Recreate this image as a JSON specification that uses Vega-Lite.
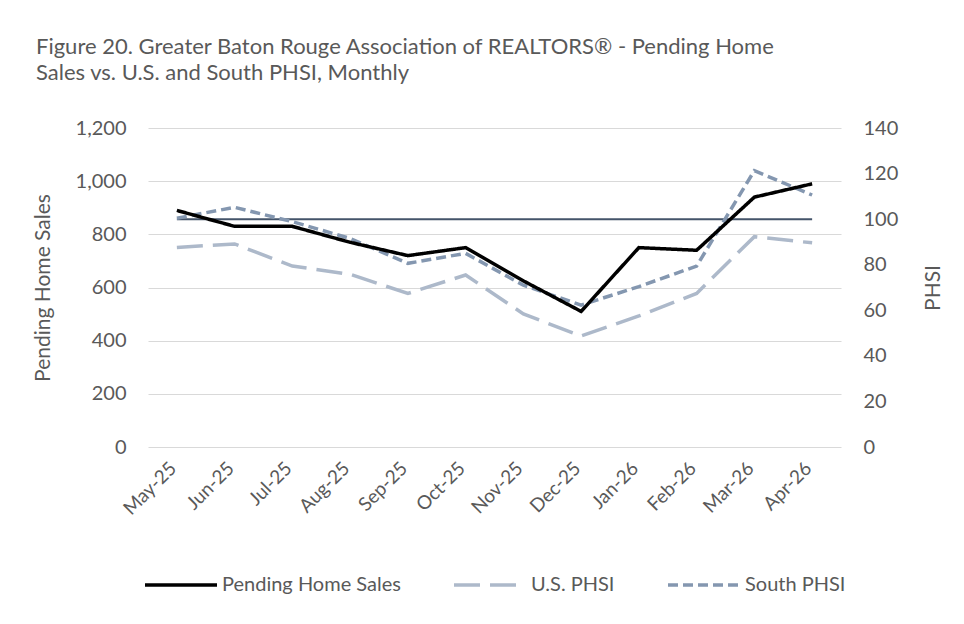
{
  "$schema": "https://vega.github.io/schema/vega-lite/v6.json",
  "width": 693,
  "height": 319,
  "autosize": {"type": "none"},
  "padding": {"left": 148, "top": 128, "right": 123, "bottom": 177},
  "background": "white",
  "config": {
    "font": "Lato",
    "view": {"stroke": null},
    "axis": {"labelColor": "#595959", "titleColor": "#595959", "titleFontWeight": "normal", "labelFontSize": 20, "titleFontSize": 21},
    "legend": {"labelColor": "#595959", "labelFontSize": 20, "labelLimit": 0}
  },
  "title": {
    "text": ["Figure 20. Greater Baton Rouge Association of REALTORS® - Pending Home", "Sales vs. U.S. and South PHSI, Monthly"],
    "anchor": "start",
    "frame": "group",
    "dx": -112,
    "fontSize": 22,
    "fontWeight": "normal",
    "color": "#595959",
    "lineHeight": 26,
    "offset": 33
  },
  "data": {
    "values": [
      {"month": "May-25", "series": "Pending Home Sales", "value": 890},
      {"month": "Jun-25", "series": "Pending Home Sales", "value": 830},
      {"month": "Jul-25", "series": "Pending Home Sales", "value": 830},
      {"month": "Aug-25", "series": "Pending Home Sales", "value": 770},
      {"month": "Sep-25", "series": "Pending Home Sales", "value": 720},
      {"month": "Oct-25", "series": "Pending Home Sales", "value": 750},
      {"month": "Nov-25", "series": "Pending Home Sales", "value": 625},
      {"month": "Dec-25", "series": "Pending Home Sales", "value": 510},
      {"month": "Jan-26", "series": "Pending Home Sales", "value": 750},
      {"month": "Feb-26", "series": "Pending Home Sales", "value": 740},
      {"month": "Mar-26", "series": "Pending Home Sales", "value": 940},
      {"month": "Apr-26", "series": "Pending Home Sales", "value": 990},
      {"month": "May-25", "series": "U.S. PHSI", "value": 87.6},
      {"month": "Jun-25", "series": "U.S. PHSI", "value": 89.1},
      {"month": "Jul-25", "series": "U.S. PHSI", "value": 79.4},
      {"month": "Aug-25", "series": "U.S. PHSI", "value": 75.8},
      {"month": "Sep-25", "series": "U.S. PHSI", "value": 67.4},
      {"month": "Oct-25", "series": "U.S. PHSI", "value": 75.5},
      {"month": "Nov-25", "series": "U.S. PHSI", "value": 58.4},
      {"month": "Dec-25", "series": "U.S. PHSI", "value": 48.7},
      {"month": "Jan-26", "series": "U.S. PHSI", "value": 57.5},
      {"month": "Feb-26", "series": "U.S. PHSI", "value": 67.4},
      {"month": "Mar-26", "series": "U.S. PHSI", "value": 92.3},
      {"month": "Apr-26", "series": "U.S. PHSI", "value": 89.6},
      {"month": "May-25", "series": "South PHSI", "value": 100.4},
      {"month": "Jun-25", "series": "South PHSI", "value": 105.2},
      {"month": "Jul-25", "series": "South PHSI", "value": 98.9},
      {"month": "Aug-25", "series": "South PHSI", "value": 91.5},
      {"month": "Sep-25", "series": "South PHSI", "value": 80.6},
      {"month": "Oct-25", "series": "South PHSI", "value": 85.0},
      {"month": "Nov-25", "series": "South PHSI", "value": 71.0},
      {"month": "Dec-25", "series": "South PHSI", "value": 62.3},
      {"month": "Jan-26", "series": "South PHSI", "value": 70.4},
      {"month": "Feb-26", "series": "South PHSI", "value": 79.4},
      {"month": "Mar-26", "series": "South PHSI", "value": 121.3},
      {"month": "Apr-26", "series": "South PHSI", "value": 110.6},
      {"month": "May-25", "series": "Baseline", "value": 100},
      {"month": "Jun-25", "series": "Baseline", "value": 100},
      {"month": "Jul-25", "series": "Baseline", "value": 100},
      {"month": "Aug-25", "series": "Baseline", "value": 100},
      {"month": "Sep-25", "series": "Baseline", "value": 100},
      {"month": "Oct-25", "series": "Baseline", "value": 100},
      {"month": "Nov-25", "series": "Baseline", "value": 100},
      {"month": "Dec-25", "series": "Baseline", "value": 100},
      {"month": "Jan-26", "series": "Baseline", "value": 100},
      {"month": "Feb-26", "series": "Baseline", "value": 100},
      {"month": "Mar-26", "series": "Baseline", "value": 100},
      {"month": "Apr-26", "series": "Baseline", "value": 100}
    ]
  },
  "encoding": {
    "x": {
      "field": "month",
      "type": "ordinal",
      "sort": ["May-25", "Jun-25", "Jul-25", "Aug-25", "Sep-25", "Oct-25", "Nov-25", "Dec-25", "Jan-26", "Feb-26", "Mar-26", "Apr-26"],
      "scale": {"type": "point", "padding": 0.5},
      "axis": {
        "title": null,
        "labelAngle": -45,
        "labelAlign": "right",
        "labelBaseline": "middle",
        "labelPadding": 18,
        "labelOffset": -4,
        "labelFontSize": 19,
        "domain": false,
        "ticks": false,
        "tickSize": 0,
        "grid": false
      }
    },
    "color": {
      "field": "series",
      "type": "nominal",
      "scale": {"domain": ["Pending Home Sales", "U.S. PHSI", "South PHSI"], "range": ["#000000", "#adb9ca", "#8497b0"]},
      "legend": {
        "title": null,
        "orient": "none",
        "direction": "horizontal",
        "legendX": -5,
        "legendY": 419,
        "symbolType": "stroke",
        "symbolSize": 5184,
        "symbolStrokeWidth": 3.5,
        "labelOffset": 3,
        "columnPadding": 46
      }
    },
    "strokeDash": {
      "field": "series",
      "type": "nominal",
      "scale": {"domain": ["Pending Home Sales", "U.S. PHSI", "South PHSI"], "range": [[1, 0], [26, 10], [10, 5]]}
    }
  },
  "layer": [
    {
      "layer": [
        {
          "transform": [{"filter": "datum.series === 'Baseline'"}],
          "mark": {"type": "line", "color": "#44546a", "strokeWidth": 2},
          "encoding": {"color": {"value": "#44546a"}, "strokeDash": {"value": [1, 0]}}
        },
        {
          "transform": [{"filter": "datum.series === 'U.S. PHSI' || datum.series === 'South PHSI'"}],
          "mark": {"type": "line", "strokeWidth": 3.5}
        }
      ],
      "encoding": {
        "y": {
          "field": "value",
          "type": "quantitative",
          "scale": {"domain": [0, 140], "nice": false},
          "axis": {
            "orient": "right",
            "title": "PHSI",
            "titleAngle": -90,
            "titleX": 92,
            "titleY": 159.5,
            "titleAlign": "center",
            "titleBaseline": "middle",
            "values": [0, 20, 40, 60, 80, 100, 120, 140],
            "grid": false,
            "domain": false,
            "ticks": false,
            "tickSize": 0,
            "labelPadding": 22
          }
        }
      }
    },
    {
      "transform": [{"filter": "datum.series === 'Pending Home Sales'"}],
      "mark": {"type": "line", "strokeWidth": 3.5},
      "encoding": {
        "y": {
          "field": "value",
          "type": "quantitative",
          "scale": {"domain": [0, 1200], "nice": false},
          "axis": {
            "orient": "left",
            "title": "Pending Home Sales",
            "titleAngle": -90,
            "titleX": -105,
            "titleY": 159.5,
            "titleAlign": "center",
            "titleBaseline": "middle",
            "values": [0, 200, 400, 600, 800, 1000, 1200],
            "format": ",d",
            "grid": true,
            "gridColor": "#d9d9d9",
            "gridWidth": 1,
            "domain": false,
            "ticks": false,
            "tickSize": 0,
            "labelPadding": 22
          }
        }
      }
    }
  ],
  "resolve": {"scale": {"y": "independent"}}
}
